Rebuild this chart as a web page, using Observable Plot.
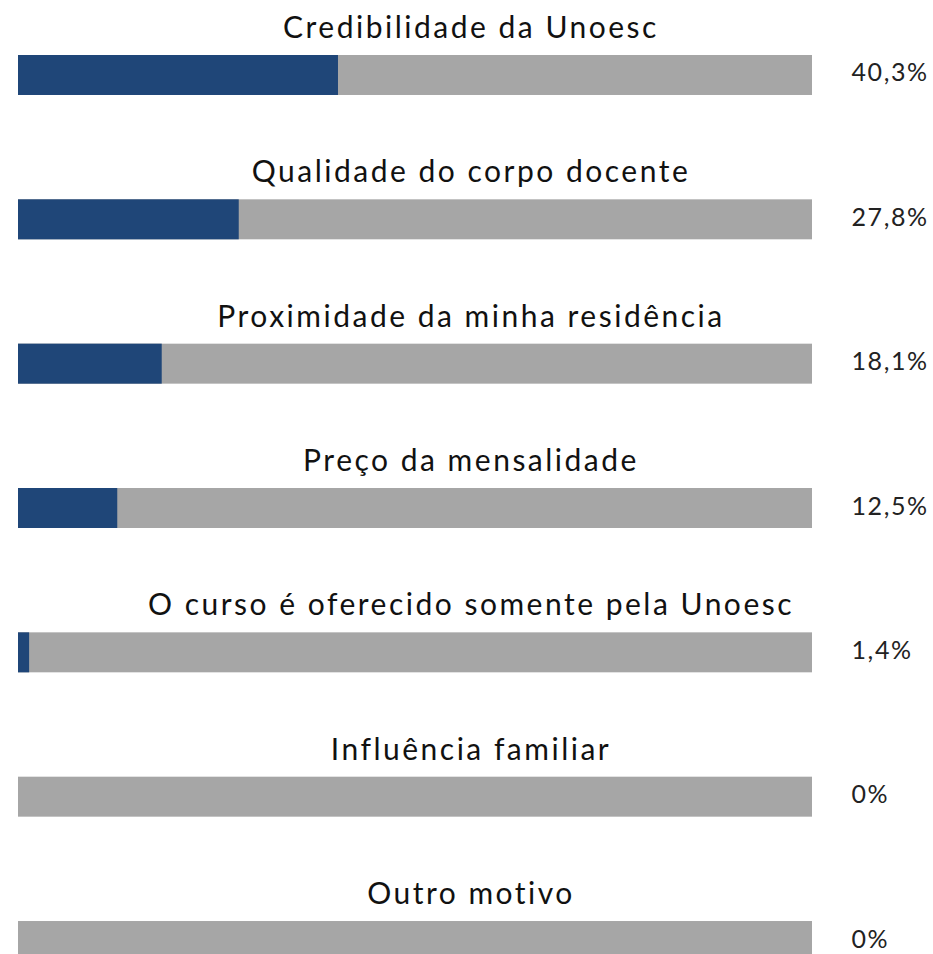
<!DOCTYPE html>
<html>
<head>
<meta charset="utf-8">
<script src="https://cdn.jsdelivr.net/npm/d3@7"></script>
<script src="https://cdn.jsdelivr.net/npm/@observablehq/plot@0.6"></script>
<style>
  html, body { margin: 0; padding: 0; background: #fff; }
  #chart svg { display: block; }
</style>
</head>
<body>
<div id="chart"></div>
<script>
const categories = [
  "Credibilidade da Unoesc",
  "Qualidade do corpo docente",
  "Proximidade da minha residência",
  "Preço da mensalidade",
  "O curso é oferecido somente pela Unoesc",
  "Influência familiar",
  "Outro motivo"
];
const values = [40.3, 27.8, 18.1, 12.5, 1.4, 0, 0];
const valueLabels = ["40,3%", "27,8%", "18,1%", "12,5%", "1,4%", "0%", "0%"];

const data = categories.map((c, i) => ({category: c, value: values[i], label: valueLabels[i], total: 100}));

const chart = Plot.plot({
  width: 933,
  height: 954,
  marginLeft: 0,
  marginRight: 0,
  marginTop: 0,
  marginBottom: 0,
  x: {domain: [0, 100], range: [18, 812], axis: null},
  y: {domain: categories, range: [55, 961], paddingInner: 0.723, paddingOuter: 0, round: false, axis: null},
  marks: [
    Plot.barX(data, {y: "category", x1: 0, x2: "total", fill: "#a6a6a6"}),
    Plot.barX(data, {y: "category", x1: 0, x2: "value", fill: "#1f4678"}),
    Plot.text(data, {y: "category", frameAnchor: "middle", dx: 4, dy: -47, text: "category",
      fontSize: 30, fill: "#111", fontFamily: "Lato"}),
    Plot.text(data, {y: "category", x: "total", dx: 39, dy: -2, text: "label", textAnchor: "start",
      fontSize: 25, fill: "#222", fontFamily: "Lato"})
  ]
});
const textGroups = chart.querySelectorAll('g[aria-label="text"]');
if (textGroups[0]) textGroups[0].style.letterSpacing = "2.5px";
if (textGroups[1]) textGroups[1].style.letterSpacing = "1.6px";
document.getElementById("chart").appendChild(chart);
</script>
</body>
</html>
